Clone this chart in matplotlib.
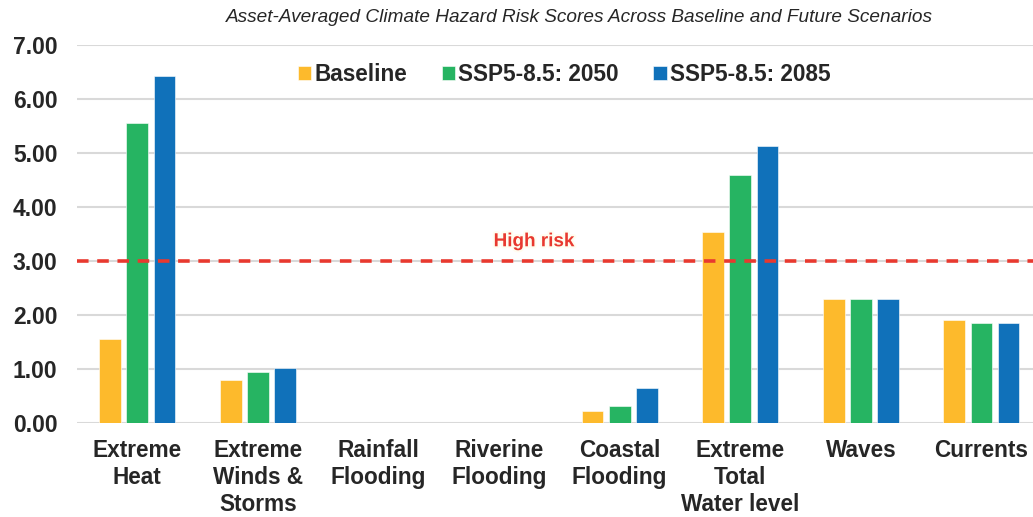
import matplotlib
matplotlib.use("Agg")
import matplotlib.pyplot as plt
import matplotlib.patheffects as pe
import numpy as np

plt.rcParams['font.family'] = ['Liberation Sans', 'DejaVu Sans']

categories = ["Extreme\nHeat", "Extreme\nWinds &\nStorms", "Rainfall\nFlooding",
              "Riverine\nFlooding", "Coastal\nFlooding", "Extreme\nTotal\nWater level",
              "Waves", "Currents"]
series_names = ["Baseline", "SSP5-8.5: 2050", "SSP5-8.5: 2085"]
baseline = [1.56, 0.80, 0.0, 0.0, 0.23, 3.54, 2.31, 1.92]
ssp_2050 = [5.56, 0.95, 0.0, 0.0, 0.33, 4.60, 2.31, 1.85]
ssp_2085 = [6.42, 1.03, 0.0, 0.0, 0.65, 5.14, 2.31, 1.85]
high_risk = 3.0
yticks = [0, 1, 2, 3, 4, 5, 6, 7]

colors = ["#FDBA2C", "#26B462", "#1071BA"]

fig = plt.figure(figsize=(10.33, 5.17), dpi=100)
ax = fig.add_axes([0.0745, 0.181, 0.934, 0.732])

x = np.arange(len(categories))
step = 0.225
width = 0.18
for i, (vals, c, name) in enumerate(zip([baseline, ssp_2050, ssp_2085], colors, series_names)):
    ax.bar(x + (i - 1) * step, vals, width=width, color=c, label=name, zorder=3,
           edgecolor="white", linewidth=0.4)

ax.axhline(high_risk, color="#E8392F", linestyle=(0, (3.2, 2.4)), linewidth=2.6, zorder=4)
ax.text(3.29, high_risk + 0.36, "High risk", color="#E8392F", fontsize=13.6,
        fontweight="bold", ha="center", va="center", zorder=5,
        path_effects=[pe.withStroke(linewidth=3, foreground="#FFFDF0")])

ax.set_xlim(-0.5, len(categories) - 0.5)
ax.set_ylim(0, 7.0)
ax.set_yticks(yticks)
ax.set_yticklabels([f"{v:.2f}" for v in yticks], fontsize=16.5, fontweight="bold",
                   color="#262626")
ax.set_xticks(x)
ax.set_xticklabels(categories, fontsize=16.3, fontweight="bold", color="#262626",
                   linespacing=1.22)
ax.tick_params(axis="both", length=0)
ax.tick_params(axis="y", pad=14)
ax.tick_params(axis="x", pad=11)
ax.yaxis.grid(True, color="#D9D9D9", linewidth=1.5, zorder=0)
ax.set_axisbelow(True)
for s in ax.spines.values():
    s.set_visible(False)

fig.text(0.561, 0.966, "Asset-Averaged Climate Hazard Risk Scores Across Baseline and Future Scenarios",
         fontsize=13.7, fontstyle="italic", color="#262626", ha="center", va="center")

leg = ax.legend(loc="center", bbox_to_anchor=(0.505, 0.922), ncol=3, frameon=False,
                handlelength=0.6, handleheight=0.6, handletextpad=0.15, columnspacing=1.5,
                prop={"size": 16.3, "weight": "bold"})
for t in leg.get_texts():
    t.set_color("#262626")

fig.savefig("out.png", dpi=100, facecolor="white")
